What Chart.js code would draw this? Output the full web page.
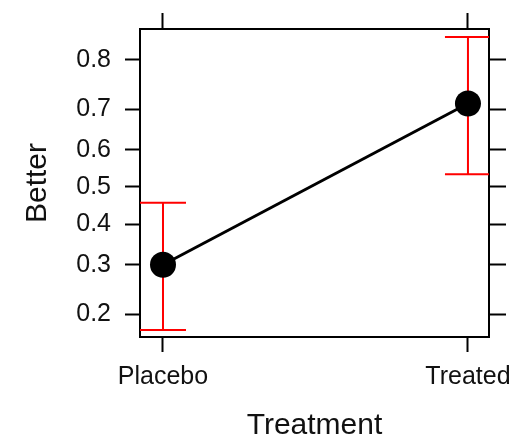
<!DOCTYPE html>
<html>
<head>
<meta charset="utf-8">
<script src="https://cdn.jsdelivr.net/npm/chart.js@4"></script>
<style>
  html, body { margin: 0; padding: 0; background: #fff; }
  #wrap { width: 523px; height: 441px; }
</style>
</head>
<body>
<div id="wrap"><canvas id="chart"></canvas></div>
<script>
const treatments = ['Placebo', 'Treated'];
const better = [0.300, 0.713];
const lower = [0.174, 0.535];
const upper = [0.457, 0.837];
const yTicks = [0.2, 0.3, 0.4, 0.5, 0.6, 0.7, 0.8];

// y axis is on the logit scale
const logit = p => Math.log(p / (1 - p));
const yMin = -1.635, yMax = 1.722;
const xMin = -0.0754, xMax = 1.069;

const FONT = 'Arial, "Liberation Sans", sans-serif';

const errorBars = {
  id: 'errorBars',
  beforeDatasetsDraw(chart) {
    const { ctx, chartArea, scales: { x, y } } = chart;
    ctx.save();
    ctx.beginPath();
    ctx.rect(chartArea.left, chartArea.top, chartArea.right - chartArea.left, chartArea.bottom - chartArea.top);
    ctx.clip();
    ctx.strokeStyle = '#ff0000';
    ctx.lineWidth = 2;
    treatments.forEach((t, i) => {
      const px = x.getPixelForValue(i);
      const top = y.getPixelForValue(logit(upper[i]));
      const bot = y.getPixelForValue(logit(lower[i]));
      const half = 23;
      ctx.beginPath();
      ctx.moveTo(px, top); ctx.lineTo(px, bot);
      ctx.moveTo(px - half, top); ctx.lineTo(px + half, top);
      ctx.moveTo(px - half, bot); ctx.lineTo(px + half, bot);
      ctx.stroke();
    });
    ctx.restore();
  }
};

const xTickBuild = scale => { scale.ticks = treatments.map((t, i) => ({ value: i })); };
const yTickBuild = scale => { scale.ticks = yTicks.map(p => ({ value: logit(p) })); };

const gridOpts = len => ({
  drawOnChartArea: false,
  color: '#000',
  tickLength: len,
  tickWidth: 2
});
const borderOpts = { color: '#000', width: 2 };

new Chart(document.getElementById('chart'), {
  type: 'line',
  plugins: [errorBars],
  data: {
    datasets: [{
      data: better.map((b, i) => ({ x: i, y: logit(b) })),
      borderColor: '#000',
      borderWidth: 3,
      pointRadius: 13,
      pointBackgroundColor: '#000',
      pointBorderWidth: 0,
      clip: false
    }]
  },
  options: {
    responsive: true,
    maintainAspectRatio: false,
    animation: false,
    events: [],
    layout: { padding: 0 },
    plugins: {
      legend: { display: false },
      tooltip: { enabled: false }
    },
    scales: {
      x: {
        type: 'linear',
        position: 'bottom',
        min: xMin,
        max: xMax,
        afterBuildTicks: xTickBuild,
        afterFit: s => { s.height = 104; },
        grid: gridOpts(15),
        border: borderOpts,
        ticks: {
          padding: 10,
          color: '#111',
          font: { family: FONT, size: 25 },
          maxRotation: 0,
          callback: (v) => treatments[v]
        },
        title: {
          display: true,
          text: 'Treatment',
          color: '#111',
          font: { family: FONT, size: 30, lineHeight: 1 },
          padding: { top: 0, bottom: 0 }
        }
      },
      x2: {
        type: 'linear',
        axis: 'x',
        position: 'top',
        min: xMin,
        max: xMax,
        afterBuildTicks: xTickBuild,
        afterFit: s => { s.height = 27; },
        grid: gridOpts(16),
        border: borderOpts,
        ticks: { display: false }
      },
      y: {
        type: 'linear',
        position: 'left',
        min: yMin,
        max: yMax,
        afterBuildTicks: yTickBuild,
        afterFit: s => { s.width = 140; },
        grid: gridOpts(15),
        border: borderOpts,
        ticks: {
          padding: 14,
          color: '#111',
          font: { family: FONT, size: 25 },
          callback: (v, i) => yTicks[i].toFixed(1)
        },
        title: {
          display: true,
          text: 'Better',
          color: '#111',
          font: { family: FONT, size: 30, lineHeight: 1 },
          padding: { top: 23, bottom: 0 }
        }
      },
      y2: {
        type: 'linear',
        axis: 'y',
        position: 'right',
        min: yMin,
        max: yMax,
        afterBuildTicks: yTickBuild,
        afterFit: s => { s.width = 34; },
        grid: gridOpts(17),
        border: borderOpts,
        ticks: { display: false }
      }
    }
  }
});
</script>
</body>
</html>
